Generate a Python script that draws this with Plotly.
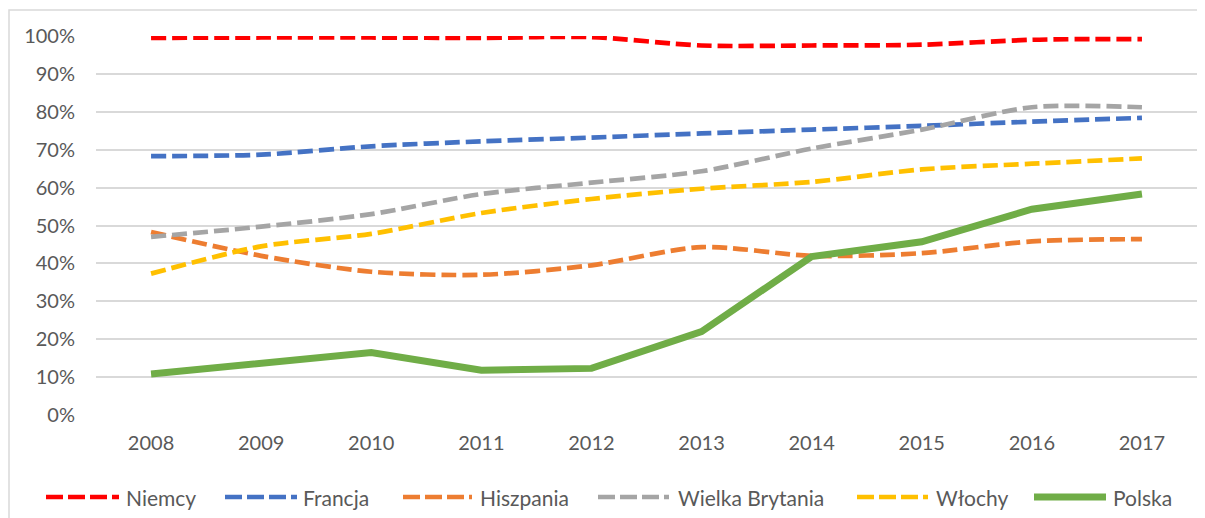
import plotly.graph_objects as go

years = ["2008", "2009", "2010", "2011", "2012", "2013", "2014", "2015", "2016", "2017"]

niemcy = [0.995, 0.996, 0.996, 0.995, 0.997, 0.975, 0.975, 0.977, 0.990, 0.992]
francja = [0.683, 0.687, 0.709, 0.722, 0.732, 0.743, 0.753, 0.763, 0.774, 0.784]
hiszpania = [0.483, 0.420, 0.378, 0.370, 0.395, 0.443, 0.420, 0.427, 0.458, 0.464]
wielka_brytania = [0.470, 0.497, 0.530, 0.583, 0.613, 0.643, 0.703, 0.753, 0.812, 0.812]
wlochy = [0.373, 0.445, 0.478, 0.533, 0.570, 0.597, 0.615, 0.648, 0.663, 0.677]
polska = [0.108, 0.135, 0.165, 0.118, 0.123, 0.220, 0.418, 0.457, 0.543, 0.583]

font = "Lato, Carlito, 'Liberation Sans', sans-serif"
grey_txt = "#595959"

# the page body has an 8px margin, so the figure is drawn 8px smaller
OFF = 8
W, H = 1205 - OFF, 518 - OFF
L, R, T, B = 96 - OFF, 8, 36 - OFF, 103
pw, ph = W - L - R, H - T - B


def px(x):
    # x in screen pixels -> paper coords
    return (x - OFF - L) / pw


def py(y):
    return (H - B - (y - OFF)) / ph


series = [
    ("Niemcy", niemcy, "#ff0000"),
    ("Francja", francja, "#4472c4"),
    ("Hiszpania", hiszpania, "#ed7d31"),
    ("Wielka Brytania", wielka_brytania, "#a5a5a5"),
    ("Włochy", wlochy, "#ffc000"),
]

fig = go.Figure()
for name, vals, col in series:
    fig.add_trace(go.Scatter(
        x=years, y=vals, name=name, mode="lines",
        line=dict(color=col, width=4.7, dash="15px,6px", shape="spline", smoothing=0.8),
        cliponaxis=False,
    ))

fig.add_trace(go.Scatter(
    x=years, y=polska, name="Polska", mode="lines",
    line=dict(color="#70ad47", width=7),
    cliponaxis=False,
))

# legend drawn by hand so the symbols can be as long as in the original
# (symbol start, symbol end, text left) in screen pixels
leg_pos = [(46, 119, 124), (225, 297, 301), (403, 472, 478),
           (598, 669, 676), (857, 928, 934), (1034, 1106, 1111)]
leg_y = 497
shapes = []
annotations = []
for tr, (s0, s1, tx) in zip(fig.data, leg_pos):
    solid = tr.line.dash is None
    shapes.append(dict(
        type="line", xref="paper", yref="paper",
        x0=px(s0), x1=px(s1), y0=py(leg_y), y1=py(leg_y),
        line=dict(color=tr.line.color, width=7 if solid else 4.7,
                  dash="solid" if solid else "17px,5px"),
    ))
    annotations.append(dict(
        text=tr.name, xref="paper", yref="paper", x=px(tx), y=py(leg_y),
        xanchor="left", yanchor="middle", showarrow=False,
        font=dict(size=21, color=grey_txt, family=font),
    ))

shapes.append(dict(
    type="rect", xref="paper", yref="paper",
    x0=px(9), x1=px(1220), y0=py(540), y1=py(10),
    line=dict(color="#d9d9d9", width=1.5), fillcolor="rgba(0,0,0,0)",
    layer="below",
))

fig.update_layout(
    width=W, height=H,
    margin=dict(l=L, r=R, t=T, b=B, autoexpand=False),
    paper_bgcolor="white", plot_bgcolor="white",
    font=dict(family=font, size=20, color=grey_txt),
    showlegend=False,
    xaxis=dict(
        type="category", range=[-0.5, 9.5], showgrid=False, zeroline=False,
        showline=False, ticks="", automargin=False, ticklabelstandoff=14,
        tickfont=dict(size=20, color=grey_txt),
    ),
    yaxis=dict(
        range=[0, 1.0], dtick=0.1, tickformat=".0%", showgrid=True,
        gridcolor="#d9d9d9", gridwidth=1.5, zeroline=False, showline=False,
        ticks="", automargin=False, ticklabelstandoff=20,
        tickfont=dict(size=20, color=grey_txt),
    ),
    shapes=shapes,
    annotations=annotations,
)

fig.write_html("out.html")
